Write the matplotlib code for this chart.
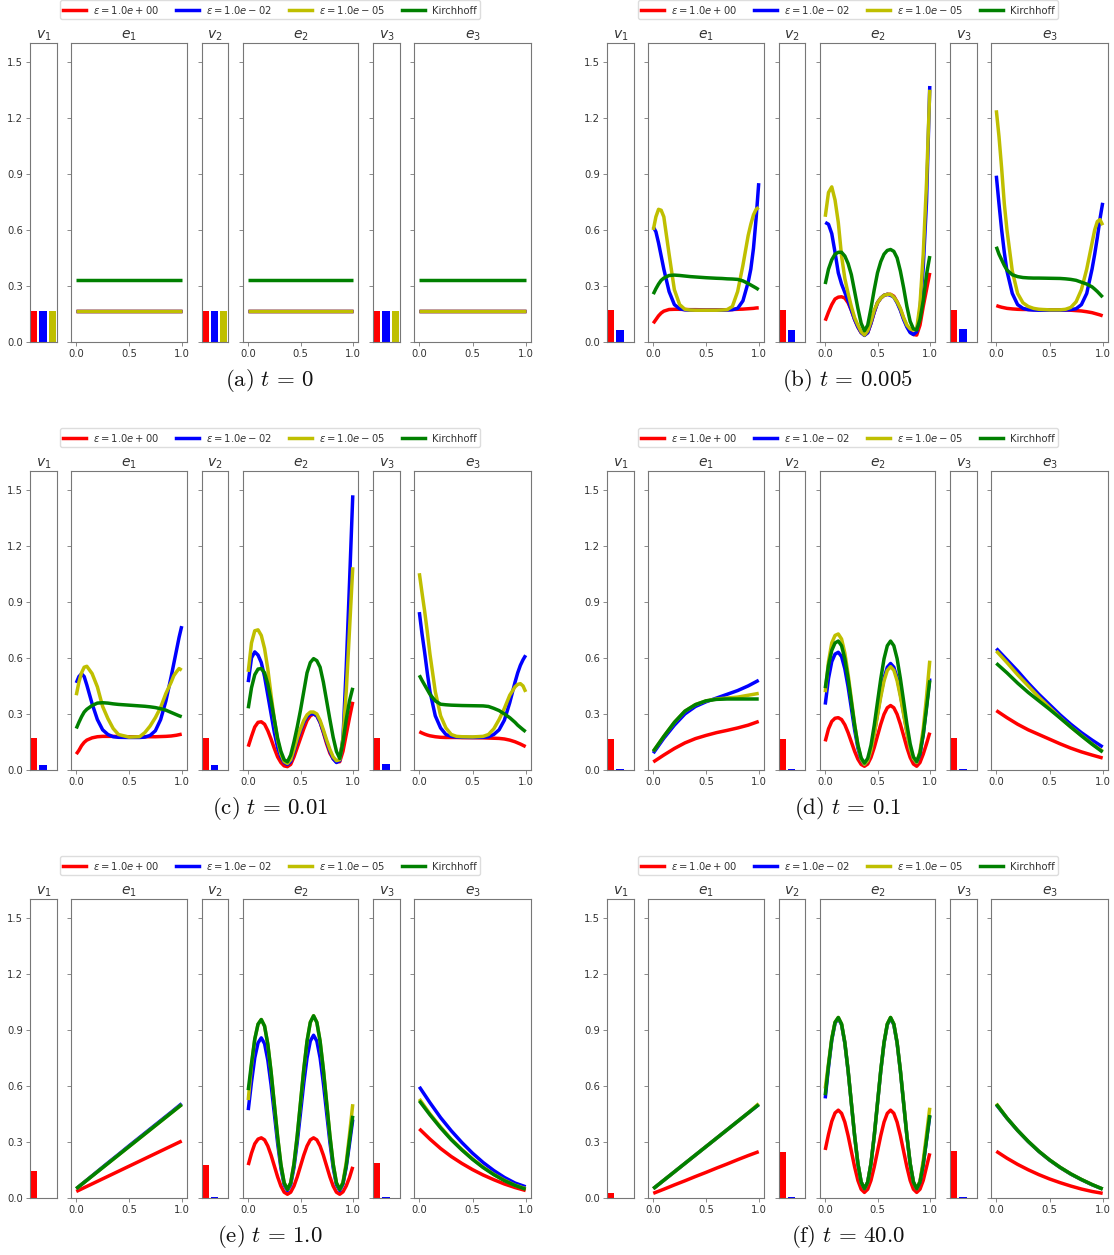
import matplotlib
matplotlib.use('Agg')
import matplotlib.pyplot as plt
from matplotlib.lines import Line2D

W, H, DPI = 1114, 1255, 100

# ---------------- data ----------------
SERIES_LABELS = [r'$\varepsilon = 1.0e+00$', r'$\varepsilon = 1.0e-02$',
                 r'$\varepsilon = 1.0e-05$', 'Kirchhoff']
VERTEX_TITLES = [r'$v_1$', r'$v_2$', r'$v_3$']
EDGE_TITLES = [r'$e_1$', r'$e_2$', r'$e_3$']
CAPTIONS = [r'$\mathrm{(a)}\ t\,=\,0$', r'$\mathrm{(b)}\ t\,=\,0.005$',
            r'$\mathrm{(c)}\ t\,=\,0.01$', r'$\mathrm{(d)}\ t\,=\,0.1$',
            r'$\mathrm{(e)}\ t\,=\,1.0$', r'$\mathrm{(f)}\ t\,=\,40.0$']
Y_TICKS = [0.0, 0.3, 0.6, 0.9, 1.2, 1.5]
X_TICKS = [0.0, 0.5, 1.0]

X_ENDS = [0.0, 1.0]
X_COARSE = [0.0, 0.1, 0.2, 0.3, 0.4, 0.5, 0.6, 0.7, 0.8, 0.9, 1.0]
X_FINE = [0.0, 0.025, 0.05, 0.075, 0.1, 0.15, 0.2, 0.25, 0.3, 0.35, 0.4, 0.5,
          0.6, 0.65, 0.7, 0.75, 0.8, 0.85, 0.9, 0.925, 0.95, 0.975, 1.0]
X_E2 = [0.0, 0.03125, 0.0625, 0.09375, 0.125, 0.15625, 0.1875, 0.21875, 0.25,
        0.28125, 0.3125, 0.34375, 0.375, 0.40625, 0.4375, 0.46875, 0.5,
        0.53125, 0.5625, 0.59375, 0.625, 0.65625, 0.6875, 0.71875, 0.75,
        0.78125, 0.8125, 0.84375, 0.875, 0.90625, 0.9375, 0.96875, 1.0]

# (a) t = 0
A_V_RED = [0.1667, 0.1667, 0.1667]
A_V_BLUE = [0.1667, 0.1667, 0.1667]
A_V_YELLOW = [0.1667, 0.1667, 0.1667]
A_E_RED = [0.1667, 0.1667]
A_E_BLUE = [0.1667, 0.1667]
A_E_YELLOW = [0.1667, 0.1667]
A_E_GREEN = [0.3333, 0.3333]

# (b) t = 0.005
B_V_RED = [0.169, 0.169, 0.169]
B_V_BLUE = [0.066, 0.066, 0.068]
B_V_YELLOW = [0.0, 0.0, 0.0]
B_E1_RED = [0.10, 0.12, 0.14, 0.155, 0.165, 0.174, 0.175, 0.175, 0.174, 0.173, 0.173, 0.172,
            0.172, 0.172, 0.173, 0.174, 0.175, 0.176, 0.178, 0.179, 0.180, 0.182, 0.183]
B_E1_BLUE = [0.616, 0.59, 0.53, 0.46, 0.39, 0.27, 0.20, 0.178, 0.172, 0.171, 0.17, 0.17,
             0.17, 0.17, 0.171, 0.173, 0.18, 0.22, 0.32, 0.39, 0.50, 0.66, 0.85]
B_E1_YELLOW = [0.60, 0.67, 0.71, 0.705, 0.67, 0.47, 0.28, 0.20, 0.175, 0.171, 0.17, 0.17,
               0.17, 0.171, 0.173, 0.19, 0.27, 0.41, 0.57, 0.63, 0.68, 0.71, 0.72]
B_E1_GREEN = [0.256, 0.285, 0.31, 0.33, 0.342, 0.356, 0.358, 0.356, 0.353, 0.35, 0.348, 0.344,
              0.341, 0.34, 0.338, 0.337, 0.335, 0.327, 0.313, 0.305, 0.297, 0.289, 0.28]
B_E2_RED = [0.114, 0.16, 0.20, 0.23, 0.24, 0.242, 0.235, 0.21, 0.17, 0.12, 0.08, 0.05, 0.037,
            0.05, 0.10, 0.16, 0.21, 0.235, 0.25, 0.255, 0.255, 0.245, 0.215, 0.175, 0.125,
            0.085, 0.055, 0.04, 0.037, 0.09, 0.19, 0.28, 0.37]
B_E2_BLUE = [0.64, 0.63, 0.58, 0.48, 0.37, 0.31, 0.265, 0.22, 0.17, 0.12, 0.08, 0.05, 0.035,
             0.05, 0.10, 0.16, 0.21, 0.235, 0.25, 0.255, 0.25, 0.24, 0.21, 0.17, 0.12, 0.08,
             0.05, 0.04, 0.055, 0.17, 0.40, 0.75, 1.37]
B_E2_YELLOW = [0.67, 0.80, 0.83, 0.76, 0.64, 0.46, 0.34, 0.26, 0.19, 0.13, 0.09, 0.055, 0.037,
               0.06, 0.11, 0.17, 0.21, 0.235, 0.25, 0.255, 0.255, 0.24, 0.215, 0.18, 0.13,
               0.09, 0.07, 0.064, 0.07, 0.20, 0.47, 0.85, 1.35]
B_E2_GREEN = [0.31, 0.39, 0.44, 0.47, 0.48, 0.48, 0.46, 0.42, 0.36, 0.27, 0.18, 0.10, 0.06,
              0.09, 0.18, 0.28, 0.37, 0.43, 0.47, 0.49, 0.495, 0.485, 0.45, 0.38, 0.29, 0.19,
              0.11, 0.07, 0.065, 0.12, 0.22, 0.36, 0.46]
B_E3_RED = [0.195, 0.19, 0.186, 0.183, 0.18, 0.177, 0.175, 0.174, 0.174, 0.173, 0.173, 0.172,
            0.172, 0.171, 0.170, 0.168, 0.166, 0.162, 0.157, 0.153, 0.149, 0.145, 0.14]
B_E3_BLUE = [0.89, 0.74, 0.60, 0.48, 0.38, 0.26, 0.20, 0.18, 0.173, 0.171, 0.17, 0.17,
             0.17, 0.171, 0.173, 0.178, 0.20, 0.26, 0.39, 0.47, 0.56, 0.66, 0.745]
B_E3_YELLOW = [1.24, 1.10, 0.93, 0.74, 0.60, 0.38, 0.26, 0.21, 0.19, 0.18, 0.175, 0.172,
               0.172, 0.175, 0.185, 0.215, 0.28, 0.39, 0.53, 0.60, 0.645, 0.655, 0.625]
B_E3_GREEN = [0.51, 0.47, 0.44, 0.41, 0.385, 0.36, 0.35, 0.345, 0.343, 0.342, 0.342, 0.341,
              0.340, 0.338, 0.335, 0.330, 0.320, 0.310, 0.295, 0.283, 0.270, 0.255, 0.24]

# (c) t = 0.01
C_V_RED = [0.169, 0.169, 0.169]
C_V_BLUE = [0.027, 0.027, 0.034]
C_V_YELLOW = [0.0, 0.0, 0.0]
C_E1_RED = [0.085, 0.105, 0.13, 0.148, 0.16, 0.172, 0.178, 0.18, 0.18, 0.18, 0.179, 0.178,
            0.178, 0.178, 0.178, 0.178, 0.179, 0.18, 0.182, 0.184, 0.186, 0.189, 0.192]
C_E1_BLUE = [0.466, 0.50, 0.515, 0.50, 0.455, 0.355, 0.27, 0.215, 0.19, 0.178, 0.175, 0.174,
             0.174, 0.176, 0.185, 0.21, 0.27, 0.37, 0.50, 0.57, 0.64, 0.71, 0.77]
C_E1_YELLOW = [0.40, 0.47, 0.52, 0.55, 0.555, 0.516, 0.445, 0.34, 0.275, 0.222, 0.19, 0.176,
               0.178, 0.20, 0.235, 0.28, 0.335, 0.41, 0.47, 0.505, 0.525, 0.543, 0.534]
C_E1_GREEN = [0.222, 0.255, 0.285, 0.31, 0.325, 0.345, 0.358, 0.36, 0.358, 0.354, 0.351, 0.347,
              0.343, 0.341, 0.338, 0.334, 0.328, 0.32, 0.308, 0.302, 0.296, 0.29, 0.285]
C_E2_RED = [0.125, 0.18, 0.23, 0.255, 0.258, 0.245, 0.21, 0.165, 0.115, 0.07, 0.04, 0.022,
            0.018, 0.03, 0.07, 0.12, 0.17, 0.22, 0.265, 0.29, 0.30, 0.29, 0.255, 0.20, 0.14,
            0.09, 0.06, 0.045, 0.044, 0.10, 0.19, 0.28, 0.365]
C_E2_BLUE = [0.47, 0.60, 0.632, 0.615, 0.575, 0.50, 0.40, 0.30, 0.20, 0.12, 0.07, 0.04, 0.03,
             0.045, 0.10, 0.16, 0.21, 0.255, 0.285, 0.30, 0.30, 0.29, 0.255, 0.205, 0.15,
             0.10, 0.06, 0.04, 0.05, 0.17, 0.55, 1.0, 1.47]
C_E2_YELLOW = [0.525, 0.68, 0.745, 0.75, 0.72, 0.65, 0.54, 0.40, 0.27, 0.16, 0.085, 0.045,
               0.035, 0.055, 0.11, 0.17, 0.22, 0.265, 0.295, 0.31, 0.31, 0.30, 0.265, 0.215,
               0.16, 0.11, 0.07, 0.05, 0.055, 0.17, 0.42, 0.75, 1.085]
C_E2_GREEN = [0.33, 0.44, 0.51, 0.54, 0.543, 0.52, 0.46, 0.37, 0.27, 0.17, 0.10, 0.055, 0.044,
              0.08, 0.15, 0.23, 0.32, 0.42, 0.52, 0.575, 0.596, 0.585, 0.55, 0.47, 0.37, 0.27,
              0.175, 0.10, 0.062, 0.15, 0.27, 0.37, 0.44]
C_E3_RED = [0.205, 0.198, 0.192, 0.187, 0.183, 0.178, 0.175, 0.174, 0.174, 0.174, 0.173, 0.173,
            0.172, 0.171, 0.170, 0.169, 0.166, 0.160, 0.151, 0.145, 0.139, 0.132, 0.125]
C_E3_BLUE = [0.845, 0.73, 0.63, 0.52, 0.42, 0.29, 0.225, 0.19, 0.18, 0.176, 0.175, 0.174,
             0.175, 0.178, 0.19, 0.215, 0.267, 0.36, 0.47, 0.52, 0.56, 0.59, 0.614]
C_E3_YELLOW = [1.053, 0.95, 0.85, 0.74, 0.62, 0.42, 0.29, 0.225, 0.19, 0.18, 0.178, 0.177,
               0.18, 0.19, 0.22, 0.27, 0.33, 0.40, 0.445, 0.458, 0.462, 0.45, 0.418]
C_E3_GREEN = [0.507, 0.48, 0.455, 0.43, 0.405, 0.37, 0.352, 0.349, 0.347, 0.346, 0.345, 0.344,
              0.343, 0.34, 0.33, 0.318, 0.30, 0.28, 0.255, 0.24, 0.228, 0.216, 0.205]

# (d) t = 0.1
D_V_RED = [0.165, 0.167, 0.17]
D_V_BLUE = [0.003, 0.003, 0.003]
D_V_YELLOW = [0.0, 0.0, 0.0]
D_E1_RED = [0.043, 0.08, 0.115, 0.145, 0.168, 0.185, 0.2, 0.212, 0.225, 0.24, 0.26]
D_E1_BLUE = [0.09, 0.17, 0.24, 0.30, 0.34, 0.365, 0.385, 0.405, 0.425, 0.45, 0.48]
D_E1_YELLOW = [0.10, 0.18, 0.255, 0.315, 0.35, 0.37, 0.38, 0.385, 0.39, 0.40, 0.41]
D_E1_GREEN = [0.10, 0.18, 0.255, 0.315, 0.35, 0.37, 0.378, 0.38, 0.38, 0.38, 0.38]
D_E2_RED = [0.153, 0.22, 0.26, 0.277, 0.28, 0.27, 0.242, 0.2, 0.15, 0.1, 0.058, 0.03, 0.02,
            0.032, 0.067, 0.12, 0.183, 0.245, 0.298, 0.333, 0.345, 0.333, 0.298, 0.245, 0.183,
            0.12, 0.067, 0.032, 0.02, 0.04, 0.085, 0.14, 0.2]
D_E2_BLUE = [0.35, 0.49, 0.58, 0.62, 0.63, 0.607, 0.542, 0.445, 0.33, 0.215, 0.118, 0.053, 0.03,
             0.05, 0.109, 0.197, 0.3, 0.403, 0.491, 0.55, 0.57, 0.55, 0.493, 0.406, 0.305,
             0.204, 0.117, 0.06, 0.04, 0.085, 0.19, 0.34, 0.49]
D_E2_YELLOW = [0.416, 0.58, 0.68, 0.72, 0.728, 0.701, 0.626, 0.512, 0.379, 0.246, 0.132, 0.057,
               0.03, 0.05, 0.106, 0.192, 0.292, 0.391, 0.477, 0.533, 0.553, 0.534, 0.478, 0.394,
               0.297, 0.2, 0.115, 0.06, 0.04, 0.1, 0.22, 0.39, 0.585]
D_E2_GREEN = [0.438, 0.56, 0.64, 0.68, 0.69, 0.665, 0.595, 0.49, 0.364, 0.24, 0.135, 0.065,
              0.037, 0.062, 0.132, 0.239, 0.364, 0.488, 0.595, 0.665, 0.69, 0.665, 0.596, 0.49,
              0.368, 0.245, 0.14, 0.07, 0.045, 0.09, 0.19, 0.33, 0.48]
D_E3_RED = [0.318, 0.28, 0.245, 0.215, 0.19, 0.165, 0.14, 0.117, 0.097, 0.08, 0.064]
D_E3_BLUE = [0.65, 0.59, 0.53, 0.465, 0.405, 0.35, 0.295, 0.245, 0.2, 0.16, 0.123]
D_E3_YELLOW = [0.637, 0.575, 0.51, 0.45, 0.39, 0.335, 0.28, 0.23, 0.185, 0.14, 0.1]
D_E3_GREEN = [0.571, 0.52, 0.465, 0.415, 0.37, 0.325, 0.278, 0.23, 0.183, 0.138, 0.096]

# (e) t = 1.0
E_V_RED = [0.144, 0.176, 0.185]
E_V_BLUE = [0.0, 0.003, 0.003]
E_V_YELLOW = [0.0, 0.0, 0.0]
E_E1_RED = [0.035, 0.062, 0.089, 0.116, 0.143, 0.17, 0.197, 0.224, 0.251, 0.278, 0.305]
E_E1_BLUE = [0.05, 0.096, 0.142, 0.188, 0.233, 0.279, 0.324, 0.369, 0.414, 0.459, 0.505]
E_E1_YELLOW = [0.05, 0.095, 0.14, 0.185, 0.23, 0.275, 0.32, 0.365, 0.41, 0.455, 0.5]
E_E1_GREEN = [0.05, 0.095, 0.14, 0.185, 0.23, 0.275, 0.32, 0.365, 0.41, 0.455, 0.5]
E_E2_RED = [0.176, 0.24, 0.29, 0.315, 0.322, 0.311, 0.278, 0.229, 0.171, 0.113, 0.064, 0.031,
            0.02, 0.031, 0.064, 0.113, 0.171, 0.229, 0.278, 0.311, 0.322, 0.311, 0.278, 0.229,
            0.171, 0.113, 0.064, 0.031, 0.02, 0.033, 0.065, 0.11, 0.167]
E_E2_BLUE = [0.47, 0.62, 0.75, 0.83, 0.857, 0.826, 0.737, 0.604, 0.45, 0.293, 0.16, 0.071,
             0.04, 0.071, 0.162, 0.298, 0.455, 0.614, 0.75, 0.84, 0.871, 0.84, 0.75, 0.614,
             0.455, 0.298, 0.162, 0.071, 0.04, 0.075, 0.165, 0.29, 0.42]
E_E2_YELLOW = [0.524, 0.71, 0.85, 0.93, 0.955, 0.92, 0.822, 0.674, 0.5, 0.327, 0.179, 0.081,
               0.046, 0.081, 0.182, 0.333, 0.51, 0.688, 0.839, 0.94, 0.975, 0.94, 0.839, 0.688,
               0.51, 0.333, 0.182, 0.081, 0.046, 0.085, 0.19, 0.34, 0.502]
E_E2_GREEN = [0.577, 0.72, 0.85, 0.93, 0.955, 0.92, 0.822, 0.674, 0.5, 0.327, 0.179, 0.081,
              0.046, 0.081, 0.182, 0.333, 0.51, 0.688, 0.839, 0.94, 0.975, 0.94, 0.839, 0.688,
              0.51, 0.333, 0.182, 0.081, 0.046, 0.08, 0.175, 0.31, 0.44]
E_E3_RED = [0.37, 0.315, 0.265, 0.222, 0.185, 0.152, 0.123, 0.098, 0.075, 0.056, 0.04]
E_E3_BLUE = [0.595, 0.51, 0.43, 0.36, 0.297, 0.24, 0.19, 0.147, 0.11, 0.08, 0.06]
E_E3_YELLOW = [0.53, 0.45, 0.38, 0.315, 0.26, 0.21, 0.165, 0.127, 0.095, 0.068, 0.05]
E_E3_GREEN = [0.52, 0.445, 0.375, 0.312, 0.257, 0.207, 0.163, 0.125, 0.093, 0.067, 0.047]

# (f) t = 40.0
F_V_RED = [0.025, 0.248, 0.25]
F_V_BLUE = [0.0, 0.003, 0.003]
F_V_YELLOW = [0.0, 0.0, 0.0]
F_E1_RED = [0.025, 0.047, 0.07, 0.092, 0.115, 0.137, 0.16, 0.182, 0.205, 0.227, 0.248]
F_E1_BLUE = [0.05, 0.095, 0.14, 0.185, 0.23, 0.275, 0.32, 0.365, 0.41, 0.455, 0.5]
F_E1_YELLOW = [0.05, 0.095, 0.14, 0.185, 0.23, 0.275, 0.32, 0.365, 0.41, 0.455, 0.505]
F_E1_GREEN = [0.05, 0.095, 0.14, 0.185, 0.23, 0.275, 0.32, 0.365, 0.41, 0.455, 0.5]
F_E2_RED = [0.257, 0.34, 0.41, 0.455, 0.47, 0.453, 0.406, 0.334, 0.25, 0.166, 0.094, 0.047,
            0.03, 0.047, 0.094, 0.166, 0.25, 0.334, 0.406, 0.453, 0.47, 0.453, 0.406, 0.334,
            0.25, 0.166, 0.094, 0.047, 0.03, 0.047, 0.094, 0.166, 0.239]
F_E2_BLUE = [0.533, 0.70, 0.845, 0.935, 0.962, 0.927, 0.829, 0.68, 0.506, 0.332, 0.183, 0.085,
             0.05, 0.085, 0.183, 0.332, 0.506, 0.68, 0.829, 0.927, 0.962, 0.927, 0.829, 0.68,
             0.506, 0.332, 0.183, 0.085, 0.05, 0.085, 0.18, 0.31, 0.44]
F_E2_YELLOW = [0.586, 0.72, 0.855, 0.94, 0.966, 0.931, 0.832, 0.683, 0.508, 0.333, 0.184, 0.085,
               0.05, 0.085, 0.184, 0.333, 0.508, 0.683, 0.832, 0.931, 0.966, 0.931, 0.832, 0.683,
               0.508, 0.333, 0.184, 0.085, 0.05, 0.09, 0.2, 0.34, 0.483]
F_E2_GREEN = [0.55, 0.71, 0.85, 0.94, 0.966, 0.931, 0.832, 0.683, 0.508, 0.333, 0.184, 0.085,
              0.05, 0.085, 0.184, 0.333, 0.508, 0.683, 0.832, 0.931, 0.966, 0.931, 0.832, 0.683,
              0.508, 0.333, 0.184, 0.085, 0.05, 0.085, 0.18, 0.31, 0.444]
F_E3_RED = [0.25, 0.213, 0.18, 0.151, 0.125, 0.102, 0.082, 0.064, 0.048, 0.035, 0.025]
F_E3_BLUE = [0.5, 0.427, 0.361, 0.302, 0.249, 0.203, 0.163, 0.128, 0.098, 0.071, 0.048]
F_E3_YELLOW = [0.505, 0.428, 0.362, 0.303, 0.25, 0.204, 0.164, 0.129, 0.099, 0.072, 0.048]
F_E3_GREEN = [0.502, 0.428, 0.362, 0.303, 0.25, 0.204, 0.164, 0.129, 0.099, 0.072, 0.048]

# ---------------- assemble panels ----------------
PANELS = [
    dict(bars=(A_V_RED, A_V_BLUE, A_V_YELLOW),
         edges=[(X_ENDS, (A_E_RED, A_E_BLUE, A_E_YELLOW, A_E_GREEN))] * 3),
    dict(bars=(B_V_RED, B_V_BLUE, B_V_YELLOW),
         edges=[(X_FINE, (B_E1_RED, B_E1_BLUE, B_E1_YELLOW, B_E1_GREEN)),
                (X_E2, (B_E2_RED, B_E2_BLUE, B_E2_YELLOW, B_E2_GREEN)),
                (X_FINE, (B_E3_RED, B_E3_BLUE, B_E3_YELLOW, B_E3_GREEN))]),
    dict(bars=(C_V_RED, C_V_BLUE, C_V_YELLOW),
         edges=[(X_FINE, (C_E1_RED, C_E1_BLUE, C_E1_YELLOW, C_E1_GREEN)),
                (X_E2, (C_E2_RED, C_E2_BLUE, C_E2_YELLOW, C_E2_GREEN)),
                (X_FINE, (C_E3_RED, C_E3_BLUE, C_E3_YELLOW, C_E3_GREEN))]),
    dict(bars=(D_V_RED, D_V_BLUE, D_V_YELLOW),
         edges=[(X_COARSE, (D_E1_RED, D_E1_BLUE, D_E1_YELLOW, D_E1_GREEN)),
                (X_E2, (D_E2_RED, D_E2_BLUE, D_E2_YELLOW, D_E2_GREEN)),
                (X_COARSE, (D_E3_RED, D_E3_BLUE, D_E3_YELLOW, D_E3_GREEN))]),
    dict(bars=(E_V_RED, E_V_BLUE, E_V_YELLOW),
         edges=[(X_COARSE, (E_E1_RED, E_E1_BLUE, E_E1_YELLOW, E_E1_GREEN)),
                (X_E2, (E_E2_RED, E_E2_BLUE, E_E2_YELLOW, E_E2_GREEN)),
                (X_COARSE, (E_E3_RED, E_E3_BLUE, E_E3_YELLOW, E_E3_GREEN))]),
    dict(bars=(F_V_RED, F_V_BLUE, F_V_YELLOW),
         edges=[(X_COARSE, (F_E1_RED, F_E1_BLUE, F_E1_YELLOW, F_E1_GREEN)),
                (X_E2, (F_E2_RED, F_E2_BLUE, F_E2_YELLOW, F_E2_GREEN)),
                (X_COARSE, (F_E3_RED, F_E3_BLUE, F_E3_YELLOW, F_E3_GREEN))]),
]

# ---------------- styling / layout ----------------
COLORS = ['#ff0000', '#0000ff', '#bfbf00', '#008000']
LW = 2.5
SPINE = '#777777'
TXT = '#333333'
AX_COLS = [(30, 57), (71, 187), (202, 228), (243, 358), (373, 400), (414, 531)]
TOP, BOTTOM = 43, 342
ROW_STEP = 428
COL_STEP = 577
YMAX = 1.6

fig = plt.figure(figsize=(W / DPI, H / DPI), dpi=DPI)


def px_axes(x0, x1, top, bottom):
    return fig.add_axes([x0 / W, 1 - bottom / H, (x1 - x0) / W, (bottom - top) / H])


def style(ax, first):
    for s in ax.spines.values():
        s.set_color(SPINE)
        s.set_linewidth(0.8)
    ax.set_ylim(0, YMAX)
    ax.set_yticks(Y_TICKS)
    if first:
        ax.set_yticklabels(['%.1f' % v for v in Y_TICKS])
    else:
        ax.set_yticklabels([])
    ax.tick_params(axis='both', length=3, width=0.6, color=SPINE,
                   labelsize=7.2, labelcolor=TXT, pad=2)


for p, panel in enumerate(PANELS):
    row, col = divmod(p, 2)
    ox = col * COL_STEP
    oy = row * ROW_STEP
    top, bottom = TOP + oy, BOTTOM + oy
    for k in range(3):
        # vertex axis
        vx0, vx1 = AX_COLS[2 * k]
        axv = px_axes(vx0 + ox, vx1 + ox, top, bottom)
        heights = [panel['bars'][s][k] for s in range(3)]
        axv.bar([0, 1, 2], heights, width=0.8, color=COLORS[:3])
        axv.set_xlim(-0.4, 2.5)
        axv.set_xticks([])
        style(axv, k == 0)
        axv.set_title(VERTEX_TITLES[k], fontsize=10, pad=3, color=TXT)
        # edge axis
        ex0, ex1 = AX_COLS[2 * k + 1]
        axe = px_axes(ex0 + ox, ex1 + ox, top, bottom)
        xs, ys = panel['edges'][k]
        for s in range(4):
            axe.plot(xs, ys[s], color=COLORS[s], lw=LW, solid_capstyle='butt')
        axe.set_xlim(-0.05, 1.05)
        axe.set_xticks(X_TICKS)
        axe.set_xticklabels(['%.1f' % v for v in X_TICKS])
        style(axe, False)
        axe.set_title(EDGE_TITLES[k], fontsize=10, pad=3, color=TXT)

    # legend for this panel
    handles = [Line2D([], [], color=c, lw=LW) for c in COLORS]
    cx = 270 + ox + (1 if col else 0)
    fig.legend(handles, SERIES_LABELS, loc='center', ncol=4,
               bbox_to_anchor=(cx / W, 1 - (9.5 + oy) / H),
               fontsize=7.2, frameon=True, edgecolor='#dddddd', framealpha=1,
               handlelength=2.3, columnspacing=1.7, borderpad=0.35,
               handletextpad=0.7, labelcolor=TXT)
    # caption
    fig.text(cx / W, 1 - (381 + oy) / H, CAPTIONS[p], ha='center', va='center',
             fontsize=16.5, math_fontfamily='cm', color='#111111')

fig.savefig('out.png', dpi=DPI)
